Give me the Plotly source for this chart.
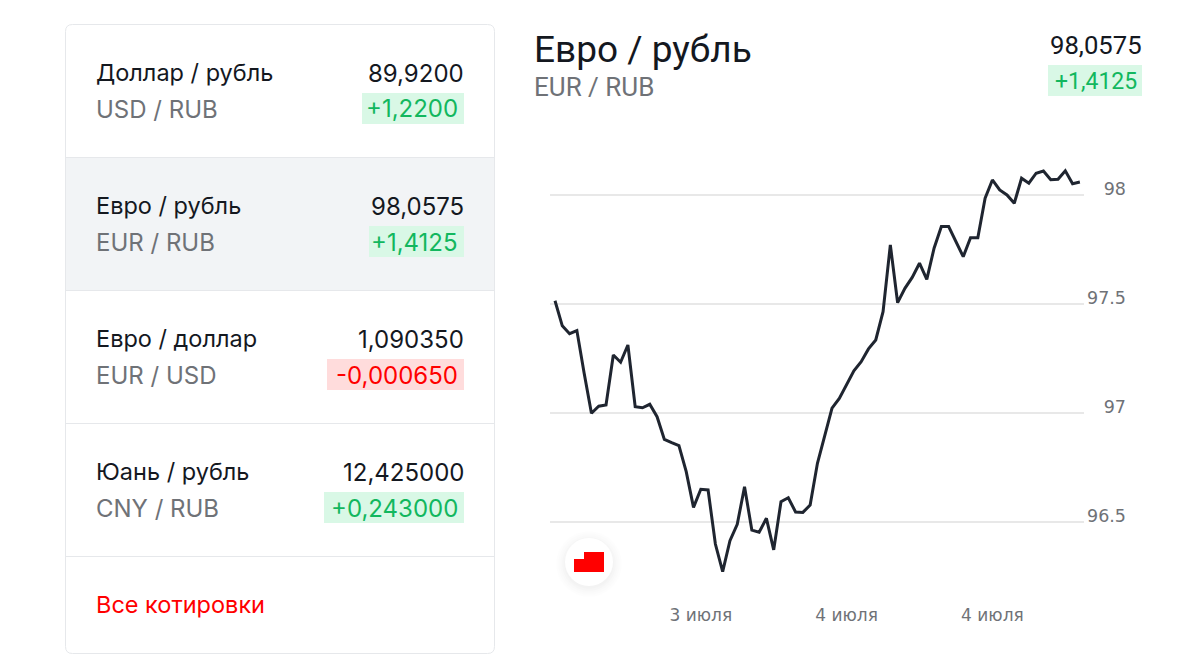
import plotly.graph_objects as go

W, H = 1199, 663

names = ["Доллар / рубль", "Евро / рубль", "Евро / доллар", "Юань / рубль"]
codes = ["USD / RUB", "EUR / RUB", "EUR / USD", "CNY / RUB"]
quotes = ["89,9200", "98,0575", "1,090350", "12,425000"]
changes = ["+1,2200", "+1,4125", "-0,000650", "+0,243000"]
link_text = "Все котировки"
title = "Евро / рубль"
title_code = "EUR / RUB"
title_quote = "98,0575"
title_change = "+1,4125"

rate = [97.515, 97.40, 97.364, 97.378, 97.182, 96.999, 97.031, 97.037, 97.266, 97.233,
        97.312, 97.029, 97.024, 97.040, 96.983, 96.879, 96.864, 96.850, 96.731, 96.567,
        96.650, 96.647, 96.399, 96.272, 96.414, 96.489, 96.662, 96.463, 96.453, 96.517,
        96.372, 96.593, 96.611, 96.546, 96.544, 96.578, 96.769, 96.891, 97.022, 97.067,
        97.128, 97.194, 97.235, 97.294, 97.335, 97.465, 97.771, 97.506, 97.572, 97.622,
        97.687, 97.613, 97.756, 97.855, 97.855, 97.786, 97.717, 97.804, 97.804, 97.985,
        98.069, 98.023, 98.000, 97.962, 98.077, 98.054, 98.100, 98.110, 98.070, 98.072,
        98.111, 98.052, 98.060]
y_ticks = [96.5, 97, 97.5, 98]
y_labels = ["96.5", "97", "97.5", "98"]
x_ticks = [20, 40, 60]
x_labels = ["3 июля", "4 июля", "4 июля"]

INK = "#14181f"
GREY = "#6f7277"
GREEN = "#12b75e"
GREEN_BG = "#d9f8e6"
RED = "#ff0000"
RED_BG = "#ffdcdc"
LINE = "#e6e8eb"
FONT_L = "Inter"
FONT_R = "Roboto"


def px(x):
    return x / W


def py(y):
    return 1 - y / H


def rect(x0, y0, x1, y1, fill, layer="below", line=None):
    return dict(type="rect", xref="paper", yref="paper", x0=px(x0), x1=px(x1),
                y0=py(y1), y1=py(y0), fillcolor=fill, layer=layer,
                line=dict(width=0) if line is None else line)


def circle(cx, cy, r, fill, opacity=1):
    return dict(type="circle", xref="paper", yref="paper", x0=px(cx - r), x1=px(cx + r),
                y0=py(cy + r), y1=py(cy - r), fillcolor=fill, opacity=opacity,
                layer="above", line=dict(width=0))


def text(x, y, s, size, color, anchor="left", family=FONT_L):
    return dict(xref="paper", yref="paper", x=px(x), y=py(y), text=s, showarrow=False,
                xanchor=anchor, yanchor="middle", align=anchor, borderwidth=0,
                font=dict(family=family, size=size, color=color), borderpad=0)


shapes, notes = [], []

# panel
x0, x1, y0, y1, r = 65.5, 494.5, 24.5, 653.5, 7
panel = (f"M {px(x0 + r)} {py(y0)} L {px(x1 - r)} {py(y0)} Q {px(x1)} {py(y0)} {px(x1)} {py(y0 + r)} "
         f"L {px(x1)} {py(y1 - r)} Q {px(x1)} {py(y1)} {px(x1 - r)} {py(y1)} "
         f"L {px(x0 + r)} {py(y1)} Q {px(x0)} {py(y1)} {px(x0)} {py(y1 - r)} "
         f"L {px(x0)} {py(y0 + r)} Q {px(x0)} {py(y0)} {px(x0 + r)} {py(y0)} Z")
shapes.append(dict(type="path", xref="paper", yref="paper", path=panel, fillcolor="white",
                   line=dict(color=LINE, width=1), layer="below"))
shapes.append(rect(66, 157, 494, 290, "#f2f4f6"))
for sep in (157, 290, 423, 556):
    shapes.append(rect(66, sep, 494, sep + 1, LINE))

chip_w = [102, 95, 137, 140]
for i, (n, c, q, d) in enumerate(zip(names, codes, quotes, changes)):
    top = 133 * i
    up = d.startswith("+")
    shapes.append(rect(464 - chip_w[i], 93 + top, 464, 124 + top, GREEN_BG if up else RED_BG))
    notes.append(text(96, 72.5 + top, n, 23.5, INK))
    notes.append(text(96, 109.5 + top, c, 24, GREY))
    notes.append(text(463.5, 73 + top, q, 24, INK, "right"))
    notes.append(text(457.5, 109 + top, d, 24, GREEN if up else RED, "right"))
notes.append(text(96, 604.5, link_text, 23.5, RED))

# chart header
notes.append(text(534, 50, title, 37, INK, family=FONT_R))
notes.append(text(534, 87, title_code, 26, GREY, family=FONT_R))
notes.append(text(1141.5, 45, title_quote, 25.7, INK, "right", FONT_R))
shapes.append(rect(1048, 65, 1142, 96, GREEN_BG))
notes.append(text(1136.5, 81, title_change, 23, GREEN, "right", FONT_R))

# floating icon
for rad, op in ((33, .006), (31, .007), (29, .008), (27, .01), (25, .012)):
    shapes.append(circle(589, 564, rad, "#000000", op))
shapes.append(circle(589, 562, 24, "#ffffff"))
shapes.append(rect(574, 559, 604, 572, RED, "above"))
shapes.append(rect(584, 552, 604, 559, RED, "above"))

# axes: pixel frame of the plot
PL, PR, PT, PB = 550, 1084, 140, 600
step = 7.29
x_range = [(PL - 555) / step, (PR - 555) / step]
units = 218
y_range = [98 - (PB - 195) / units, 98 + (195 - PT) / units]

fig = go.Figure(go.Scatter(x=list(range(len(rate))), y=rate, mode="lines",
                           line=dict(color="#1f2530", width=3), hoverinfo="skip"))
fig.update_layout(
    width=W, height=H, margin=dict(l=0, r=0, t=0, b=0), autosize=False,
    paper_bgcolor="white", plot_bgcolor="white", showlegend=False,
    shapes=shapes, annotations=notes,
    xaxis=dict(domain=[px(PL), px(PR)], range=x_range, tickmode="array", tickvals=x_ticks,
               ticktext=x_labels, showgrid=False, zeroline=False, showline=False, ticks="",
               tickfont=dict(family="DejaVu Sans", size=17, color=GREY), ticklabelstandoff=3,
               anchor="y"),
    yaxis=dict(domain=[py(PB), py(PT)], range=y_range, side="left", anchor="free",
               position=px(1126), tickmode="array",
               tickvals=y_ticks, ticktext=y_labels, showgrid=True, gridcolor="#e8e8e8", gridwidth=1.5,
               zeroline=False, showline=False, ticks="", ticklabelshift=-6,
               tickfont=dict(family="DejaVu Sans", size=17.5, color=GREY)),
)
fig.write_html("out.html", config=dict(displayModeBar=False),
               post_script="document.body.style.margin='0';")
